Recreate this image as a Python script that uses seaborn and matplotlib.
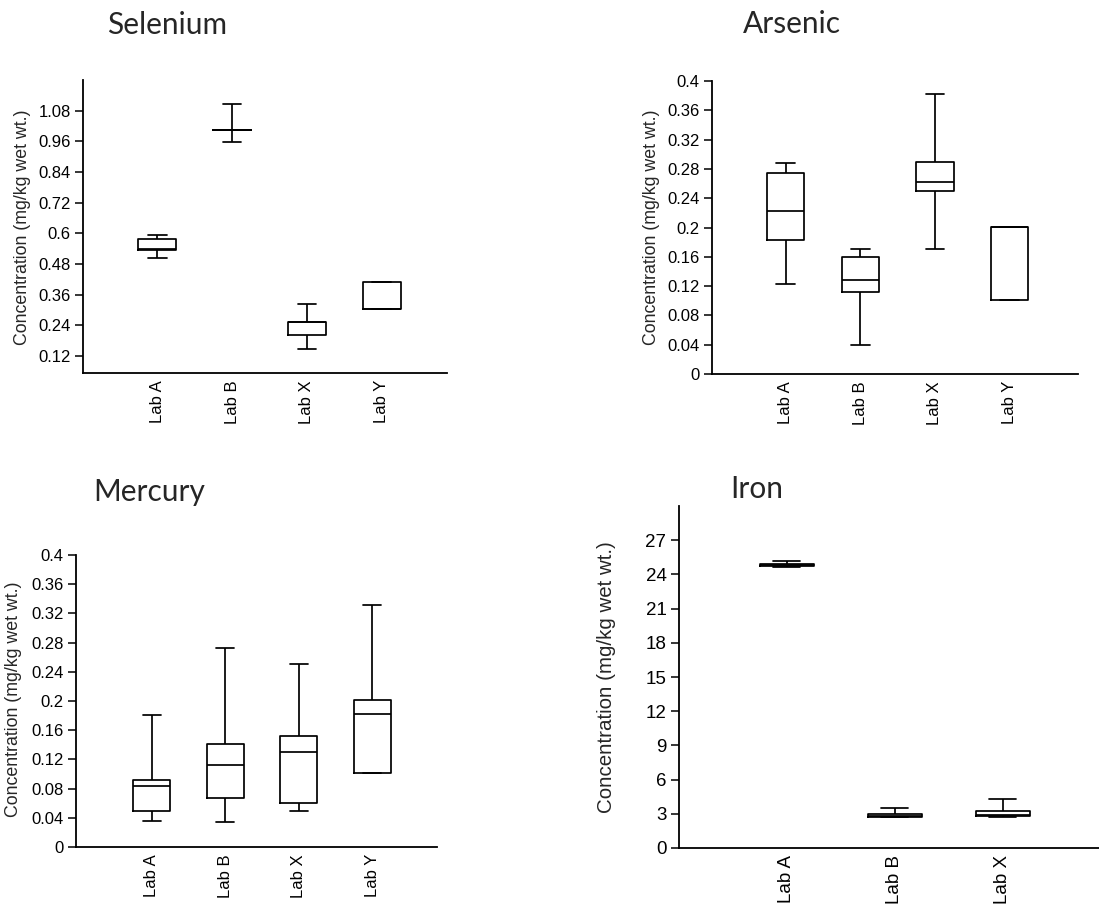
import numpy as np
import pandas as pd
import matplotlib
matplotlib.use("Agg")
import matplotlib.pyplot as plt
from matplotlib.ticker import FixedLocator, FuncFormatter
import seaborn as sns

# Laboratory groups
LABS_4 = ["Lab A", "Lab B", "Lab X", "Lab Y"]
LABS_3 = ["Lab A", "Lab B", "Lab X"]

# Five-number summaries for each lab: min, Q1, median, Q3, max (mg/kg wet wt.)
SELENIUM = [
    [0.502, 0.535, 0.540, 0.579, 0.594],
    [0.958, 1.003, 1.003, 1.003, 1.106],
    [0.145, 0.203, 0.253, 0.253, 0.323],
    [0.305, 0.305, 0.305, 0.408, 0.408],
]
ARSENIC = [
    [0.123, 0.183, 0.223, 0.274, 0.288],
    [0.040, 0.112, 0.129, 0.160, 0.170],
    [0.170, 0.250, 0.262, 0.290, 0.382],
    [0.101, 0.101, 0.201, 0.201, 0.201],
]
MERCURY = [
    [0.036, 0.049, 0.084, 0.092, 0.181],
    [0.034, 0.067, 0.112, 0.141, 0.273],
    [0.049, 0.060, 0.130, 0.152, 0.251],
    [0.101, 0.101, 0.182, 0.201, 0.331],
]
IRON = [
    [24.69, 24.78, 24.86, 24.92, 25.18],
    [2.69, 2.72, 2.85, 2.98, 3.50],
    [2.69, 2.83, 2.90, 3.21, 4.32],
]

# Y tick values per panel
SE_TICKS = [0.12, 0.24, 0.36, 0.48, 0.60, 0.72, 0.84, 0.96, 1.08]
SMALL_TICKS = [0.0, 0.04, 0.08, 0.12, 0.16, 0.20, 0.24, 0.28, 0.32, 0.36, 0.40]
FE_TICKS = [0, 3, 6, 9, 12, 15, 18, 21, 24, 27]

YLABEL = "Concentration (mg/kg wet wt.)"

sns.set_style("ticks")
plt.rcParams["font.family"] = ["Liberation Sans", "DejaVu Sans"]

W, H = 1099, 908
fig = plt.figure(figsize=(W / 100, H / 100), dpi=100)
fig.patch.set_facecolor("white")


def px_rect(x0, y0, x1, y1):
    return [x0 / W, 1 - y1 / H, (x1 - x0) / W, (y1 - y0) / H]


def fmt(v, _pos=None):
    return f"{round(v, 4):g}"


def panel(rect, labs, stats, ticks, ylim, xlim, tick_fs, title, title_xy,
          label_xy, label_fs):
    ax = fig.add_axes(px_rect(*rect))
    df = pd.DataFrame({
        "lab": np.repeat(labs, 5),
        "value": np.concatenate(stats),
    })
    sns.boxplot(data=df, x="lab", y="value", order=labs, ax=ax,
                whis=(0, 100), width=0.5, fill=False, color="black",
                linecolor="black", linewidth=1.25, showfliers=False)
    ax.set_xlim(*xlim)
    ax.set_ylim(*ylim)
    ax.yaxis.set_major_locator(FixedLocator(ticks))
    ax.yaxis.set_major_formatter(FuncFormatter(fmt))
    ax.set_xlabel("")
    ax.set_ylabel("")
    for side in ("top", "right"):
        ax.spines[side].set_visible(False)
    for side in ("left", "bottom"):
        ax.spines[side].set_linewidth(1.3)
        ax.spines[side].set_color("black")
    ax.tick_params(axis="y", direction="out", length=6, width=1.1,
                   labelsize=tick_fs, pad=3, colors="black")
    ax.tick_params(axis="x", length=0, labelsize=tick_fs, pad=5,
                   labelrotation=90, colors="black")
    ax.set_facecolor("white")
    fig.text(title_xy[0] / W, 1 - title_xy[1] / H, title,
             family=["Lato", "DejaVu Sans"], fontsize=21.5,
             ha="left", va="baseline")
    fig.text(label_xy[0] / W, 1 - label_xy[1] / H, YLABEL, rotation=90,
             ha="center", va="center", fontsize=label_fs)
    return ax


panel((83, 80, 447, 373), LABS_4, SELENIUM, SE_TICKS, (0.053, 1.2),
      (-0.99, 3.87), 12, "Selenium", (107, 34), (23, 227), 12.8)
panel((712, 81, 1078, 374), LABS_4, ARSENIC, SMALL_TICKS, (0, 0.4),
      (-0.99, 3.92), 12, "Arsenic", (743, 33), (652, 227), 12.8)
panel((76, 555, 437, 847), LABS_4, MERCURY, SMALL_TICKS, (0, 0.4),
      (-1.03, 3.88), 12, "Mercury", (93, 501), (14, 699), 12.8)
panel((679, 506, 1099, 848), LABS_3, IRON, FE_TICKS, (0, 30),
      (-1.0, 2.89), 13.5, "Iron", (730, 498), (607, 677), 14.8)

fig.savefig("out.png", dpi=100, facecolor="white")
